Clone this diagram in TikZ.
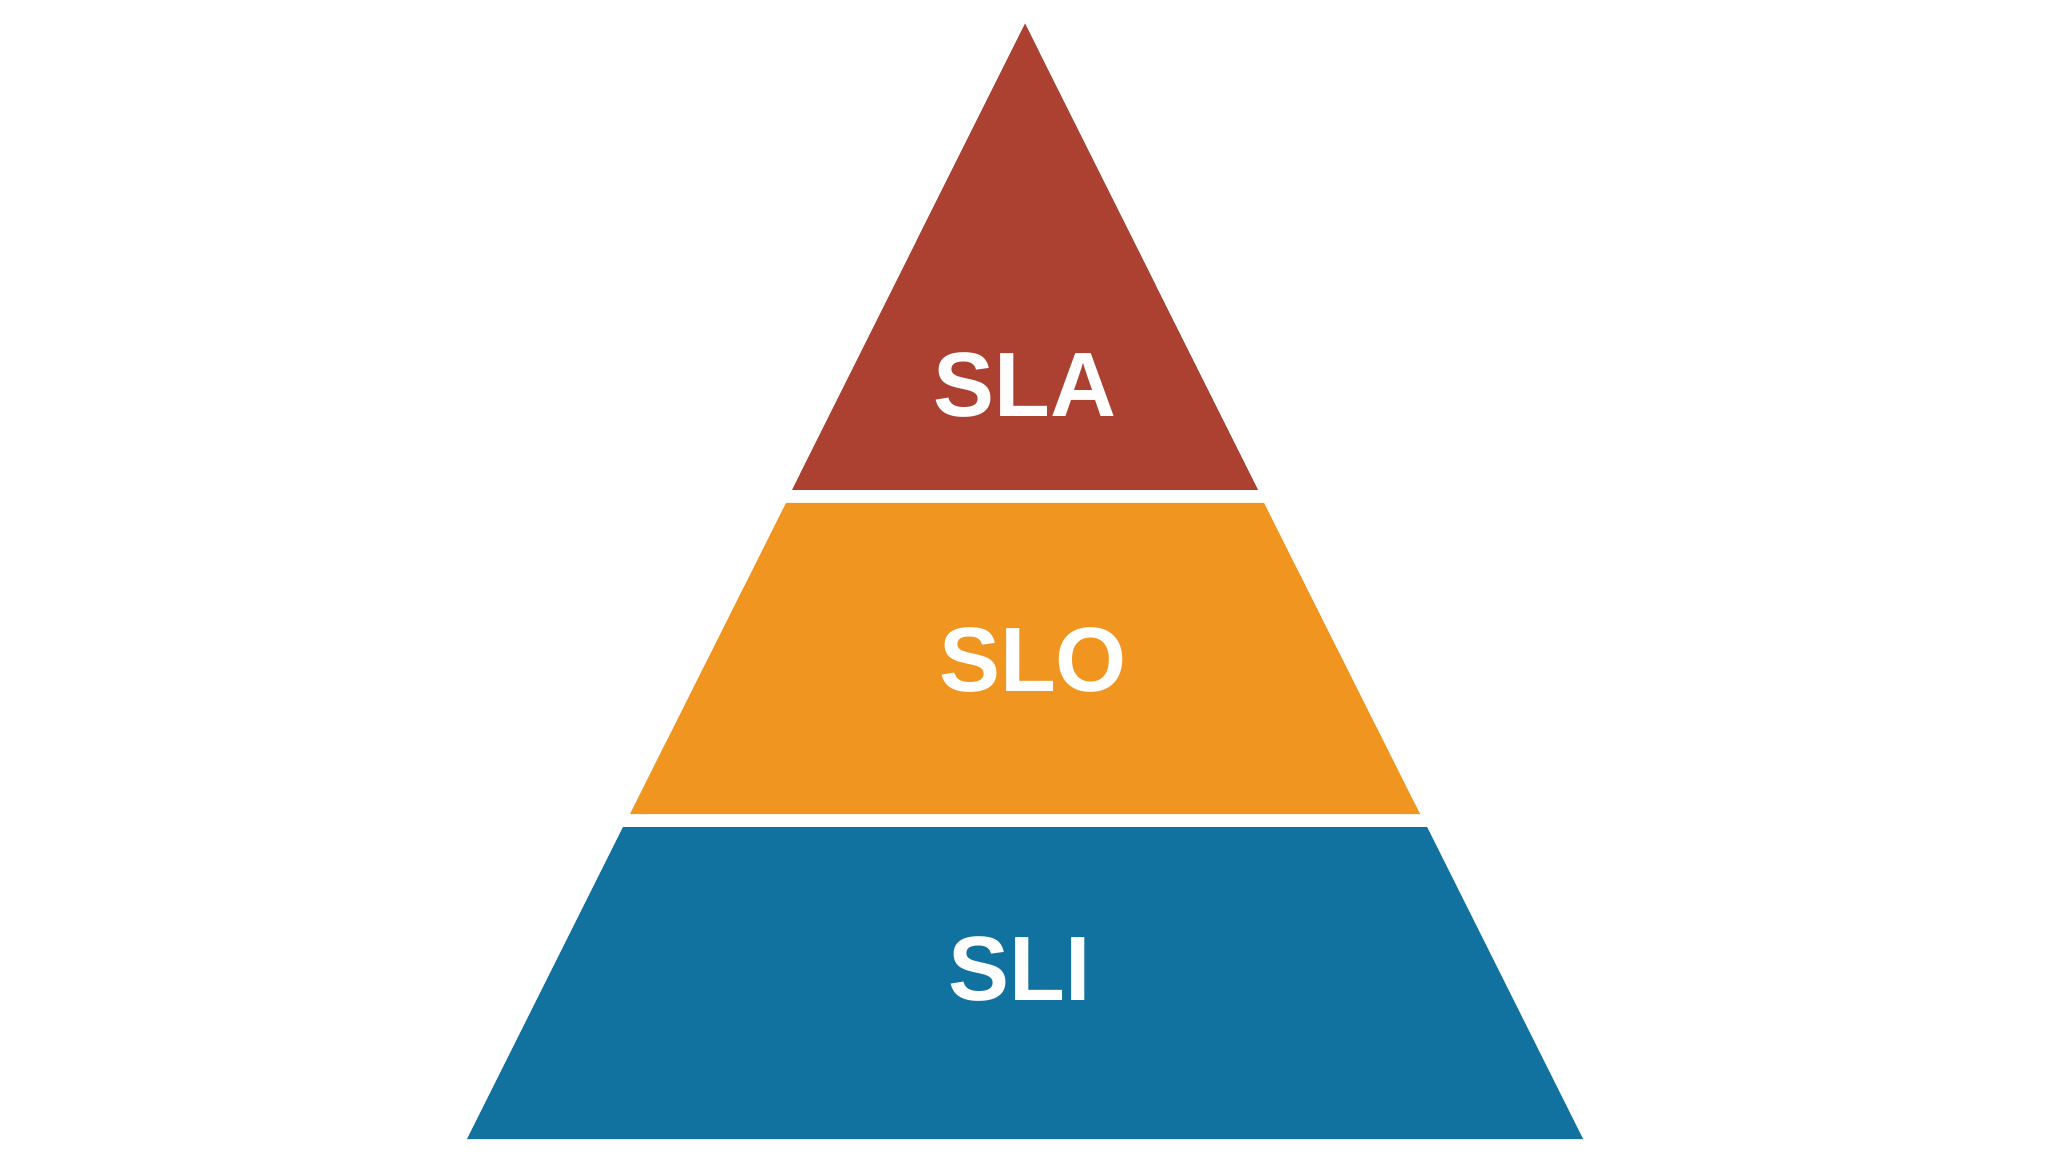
\documentclass[tikz,border=0pt]{standalone}
\usepackage{fontspec}
\setmainfont{Liberation Sans}
\definecolor{slared}{HTML}{AC4132}
\definecolor{sloorange}{HTML}{F19521}
\definecolor{sliblue}{HTML}{12729F}
\begin{document}
\begin{tikzpicture}[x=0.01cm,y=-0.01cm,
        level/.style={text=white,font=\bfseries\fontsize{26}{30}\selectfont}]
        \useasboundingbox (0,0) rectangle (2048,1152);
        %\draw [very thin, green]  (0,0) grid[step=100] (2048,1152);
        \fill [slared] (1025,23.5) -- (1258,490) -- (792,490) -- cycle;
        \fill [sloorange] (786,503) -- (1264,503) -- (1420,814) -- (630,814) -- cycle;
        \fill [sliblue] (623,827) -- (1427,827) -- (1583,1139) -- (467,1139) -- cycle;

        \node at (1025,385) [level] (sla) {SLA};
        \node at (1033,660) [level] (slo) {SLO};
        \node at (1020,969) [level] (sli) {SLI};
    \end{tikzpicture}
\end{document}
